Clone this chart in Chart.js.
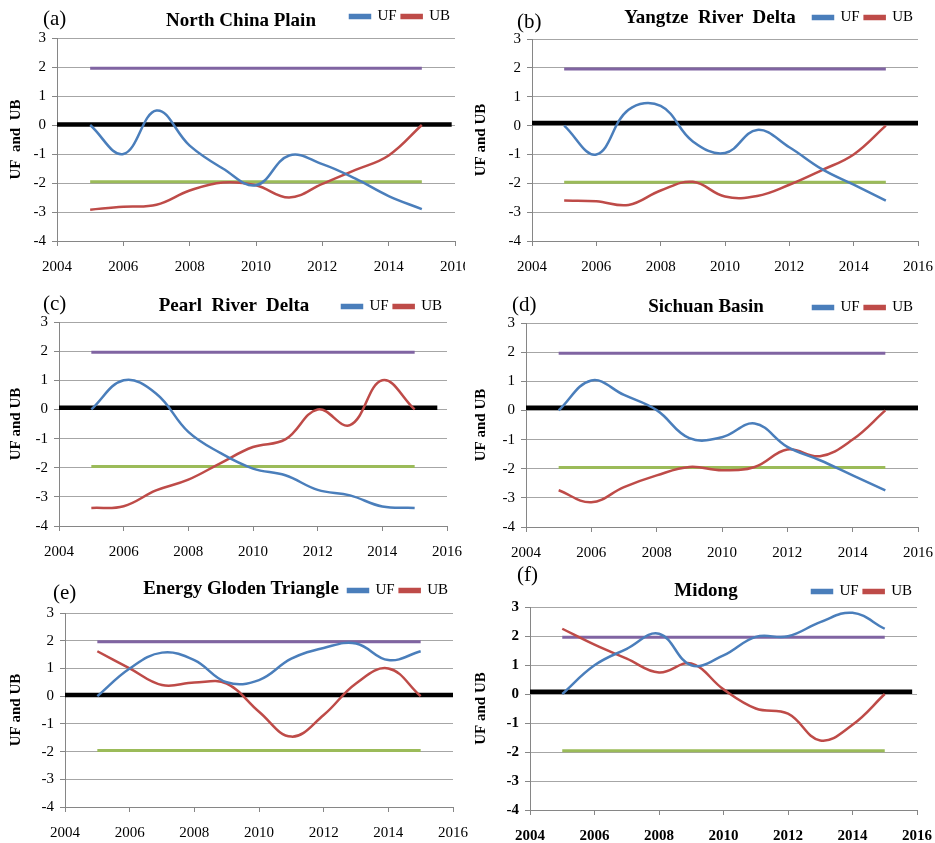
<!DOCTYPE html>
<html>
<head>
<meta charset="utf-8">
<script src="https://cdn.jsdelivr.net/npm/chart.js@4"></script>
<style>
  body { margin: 0; background: #fff; }
  #page { position: relative; width: 935px; height: 843px; overflow: hidden; }
  .panel { position: absolute; overflow: hidden; }
  .panel canvas { position: absolute; left: 0; top: 0; }
  .tag { position: absolute; font: 21px "Liberation Serif"; line-height: 1; white-space: pre; }
  .head { position: absolute; font: bold 19px "Liberation Serif"; line-height: 1; white-space: pre; transform: translateX(-50%); }
</style>
</head>
<body>
<div id="page"></div>
<script>
const years = [2005, 2006, 2007, 2008, 2009, 2010, 2011, 2012, 2013, 2014, 2015];
const thresholdYears = [2005, 2015];
const upperBound = 1.96;
const lowerBound = -1.96;
const xTicks = [2004, 2006, 2008, 2010, 2012, 2014, 2016];
const yTicks = [-4, -3, -2, -1, 0, 1, 2, 3];

const ufNorthChina = [0, -1.0, 0.5, -0.71, -1.5, -2.08, -1.05, -1.35, -1.85, -2.45, -2.9];
const ubNorthChina = [-2.92, -2.82, -2.75, -2.26, -1.98, -2.08, -2.5, -2.03, -1.55, -1.05, 0];

const ufYangtze = [0, -1.0, 0.55, 0.68, -0.55, -0.95, -0.15, -0.75, -1.5, -2.05, -2.6];
const ubYangtze = [-2.6, -2.62, -2.75, -2.25, -1.95, -2.46, -2.44, -2.05, -1.55, -1.0, 0];

const ufPearl = [0, 1.0, 0.55, -0.77, -1.5, -2.03, -2.26, -2.76, -2.95, -3.33, -3.38];
const ubPearl = [-3.38, -3.32, -2.78, -2.41, -1.84, -1.29, -1.03, 0, -0.54, 1.0, 0];

const ufSichuan = [0, 1.03, 0.53, 0.01, -0.95, -0.92, -0.45, -1.25, -1.71, -2.23, -2.74];
const ubSichuan = [-2.74, -3.15, -2.63, -2.23, -1.94, -2.05, -1.94, -1.34, -1.57, -1.0, 0];

const ufEnergy = [0, 1.0, 1.57, 1.3, 0.5, 0.58, 1.35, 1.74, 1.9, 1.3, 1.62];
const ubEnergy = [1.62, 1.0, 0.4, 0.49, 0.45, -0.56, -1.46, -0.68, 0.46, 1.0, 0];

const ufMidong = [0, 0.99, 1.56, 2.08, 0.99, 1.33, 1.97, 1.99, 2.48, 2.8, 2.25];
const ubMidong = [2.25, 1.7, 1.22, 0.74, 1.05, 0.16, -0.5, -0.68, -1.6, -1.06, 0];

const panels = [
  { tag: '(a)', title: 'North China Plain', uf: ufNorthChina, ub: ubNorthChina, zero: 0.02, zeroEnd: 2015.9,
    box: [0, 0, 465, 280], plot: [57, 455, 38, 241], yTitle: 'UF  and  UB',
    tagPos: [43, 19], headPos: [241, 20], shift: -4 },
  { tag: '(b)', title: 'Yangtze  River  Delta', uf: ufYangtze, ub: ubYangtze, zero: 0.09, zeroEnd: 2016,
    box: [465, 0, 470, 280], plot: [67, 453, 39, 241], yTitle: 'UF and UB',
    tagPos: [517, 22], headPos: [710, 17], shift: -4 },
  { tag: '(c)', title: 'Pearl  River  Delta', uf: ufPearl, ub: ubPearl, zero: 0.06, zeroEnd: 2015.7,
    box: [0, 280, 465, 285], plot: [59, 447, 42, 246], yTitle: 'UF and UB',
    tagPos: [43, 304], headPos: [234, 305], shift: 2 },
  { tag: '(d)', title: 'Sichuan Basin', uf: ufSichuan, ub: ubSichuan, zero: 0.09, zeroEnd: 2016,
    box: [465, 280, 470, 285], plot: [61, 453, 43, 247], yTitle: 'UF and UB',
    tagPos: [512, 305], headPos: [706, 306], shift: 2 },
  { tag: '(e)', title: 'Energy Gloden Triangle', uf: ufEnergy, ub: ubEnergy, zero: 0.04, zeroEnd: 2016,
    box: [0, 565, 470, 278], plot: [65, 453, 48, 242], yTitle: 'UF and UB',
    tagPos: [53, 593], headPos: [241, 588], shift: -5 },
  { tag: '(f)', title: 'Midong', uf: ufMidong, ub: ubMidong, zero: 0.08, zeroEnd: 2015.85,
    box: [465, 565, 470, 278], plot: [65, 452, 42, 245], yTitle: 'UF and UB',
    tagPos: [517, 575], headPos: [706, 590], shift: 2, bold: true }
];

// nudge the legend row without changing the plot area
const legendShift = {
  id: 'legendShift',
  afterLayout(chart, args, opts) {
    if (chart.legend) {
      chart.legend.top += opts.dy || 0;
      chart.legend.bottom += opts.dy || 0;
    }
  }
};

const page = document.getElementById('page');

function pts(xs, ys) {
  return xs.map((x, i) => ({ x: x, y: ys[i] }));
}

panels.forEach(p => {
  // canvas is a bit wider than its box so the last x label never squeezes the plot
  const cw = p.plot[1] + 32;
  const div = document.createElement('div');
  div.className = 'panel';
  div.style.left = p.box[0] + 'px';
  div.style.top = p.box[1] + 'px';
  div.style.width = p.box[2] + 'px';
  div.style.height = p.box[3] + 'px';
  const canvas = document.createElement('canvas');
  canvas.width = cw;
  canvas.height = p.box[3];
  div.appendChild(canvas);
  page.appendChild(div);

  const tag = document.createElement('div');
  tag.className = 'tag';
  tag.textContent = p.tag;
  tag.style.left = p.tagPos[0] + 'px';
  tag.style.top = (p.tagPos[1] - 11) + 'px';
  page.appendChild(tag);

  const head = document.createElement('div');
  head.className = 'head';
  head.textContent = p.title;
  head.style.left = p.headPos[0] + 'px';
  head.style.top = (p.headPos[1] - 10) + 'px';
  page.appendChild(head);

  const tickFont = { family: 'Liberation Serif', size: 15, weight: p.bold ? 'bold' : 'normal' };
  const legendH = 15 + 5 + 10;

  new Chart(canvas, {
    type: 'line',
    data: {
      datasets: [
        { label: 'UF', data: pts(years, p.uf), borderColor: '#4a7ebb', backgroundColor: '#4a7ebb',
          borderWidth: 2.5, pointRadius: 0, tension: 0.4 },
        { label: 'UB', data: pts(years, p.ub), borderColor: '#be4b48', backgroundColor: '#be4b48',
          borderWidth: 2.5, pointRadius: 0, tension: 0.4 },
        { label: 'zero', data: pts([2004, p.zeroEnd], [p.zero, p.zero]), borderColor: '#000',
          borderWidth: 4.5, pointRadius: 0 },
        { label: 'upper', data: pts(thresholdYears, [upperBound, upperBound]), borderColor: '#8064a2',
          borderWidth: 3, pointRadius: 0 },
        { label: 'lower', data: pts(thresholdYears, [lowerBound, lowerBound]), borderColor: '#9bbb59',
          borderWidth: 3, pointRadius: 0 }
      ]
    },
    options: {
      responsive: false,
      animation: false,
      layout: { padding: { left: 0, top: p.plot[2] - legendH, right: cw - p.plot[1], bottom: 0 } },
      plugins: {
        legendShift: { dy: p.shift },
        tooltip: { enabled: false },
        legend: {
          position: 'top',
          align: 'end',
          labels: {
            filter: item => item.text === 'UF' || item.text === 'UB',
            boxWidth: 20,
            boxHeight: 3,
            padding: 5,
            color: '#000',
            font: { family: 'Liberation Serif', size: 15 }
          }
        }
      },
      scales: {
        x: {
          type: 'linear',
          min: 2004,
          max: 2016,
          afterFit: s => { s.height = p.box[3] - p.plot[3]; },
          afterBuildTicks: s => { s.ticks = xTicks.map(v => ({ value: v })); },
          ticks: { color: '#000', font: tickFont, padding: 12, maxRotation: 0, callback: v => String(v) },
          grid: { drawOnChartArea: false, tickLength: 5, tickColor: '#868686' },
          border: { color: '#868686', width: 1 }
        },
        y: {
          min: -4,
          max: 3,
          afterFit: s => { s.width = p.plot[0]; },
          afterBuildTicks: s => { s.ticks = yTicks.map(v => ({ value: v })); },
          ticks: { color: '#000', font: tickFont, padding: 6, callback: v => String(v) },
          grid: { color: '#a6a6a6', lineWidth: 1, tickLength: 5, tickColor: '#868686' },
          border: { color: '#868686', width: 1 },
          title: {
            display: true,
            text: p.yTitle,
            color: '#000',
            padding: { top: 7, bottom: 0 },
            font: { family: 'Liberation Serif', size: 15, weight: 'bold' }
          }
        }
      }
    },
    plugins: [legendShift]
  });
});
</script>
</body>
</html>
